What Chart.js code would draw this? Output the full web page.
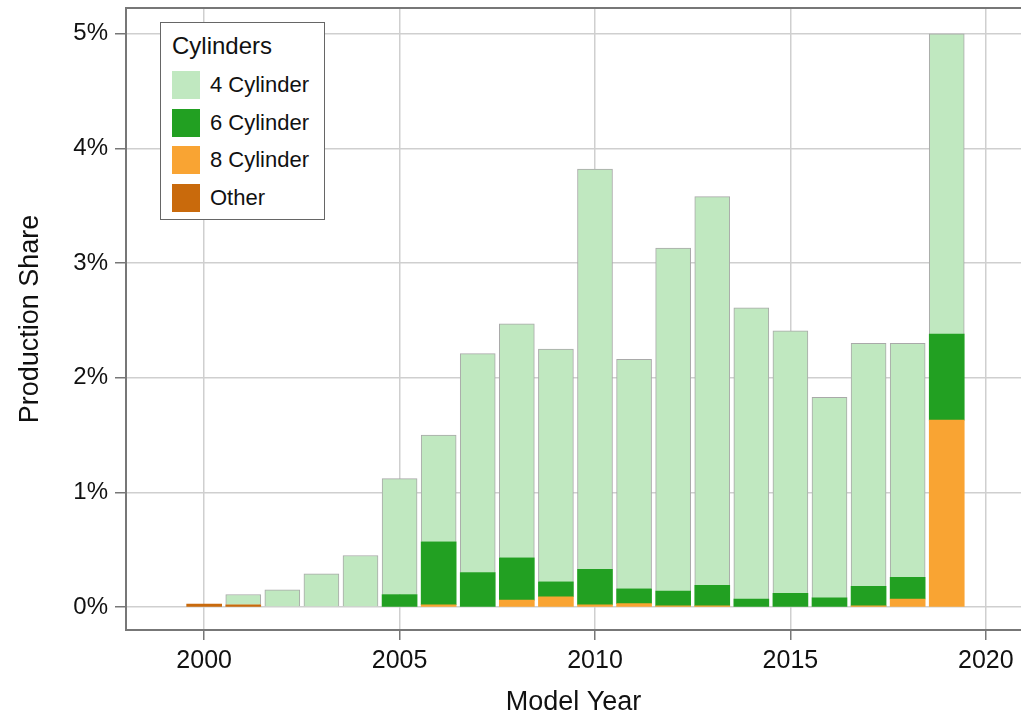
<!DOCTYPE html>
<html>
<head>
<meta charset="utf-8">
<script src="https://cdn.jsdelivr.net/npm/chart.js@4/dist/chart.umd.min.js"></script>
<style>
    body { margin: 0; background: #fff; }
    #wrap { position: relative; width: 1021px; height: 719px; }
    #legend {
        position: absolute; left: 160px; top: 22px; width: 163px; height: 196px;
        border: 1.5px solid #666; background: #fff;
        font-family: "Liberation Sans", Arial, sans-serif; color: #111;
    }
    #legend .title { font-size: 24px; position: absolute; left: 11px; top: 9px; }
    #legend .item { position: absolute; left: 11px; height: 28px; display: flex; align-items: center; font-size: 22px; }
    #legend .sw { width: 28px; height: 28px; margin-right: 10px; }
</style>
</head>
<body>
<div id="wrap">
    <canvas id="shareChart" width="1021" height="719"></canvas>
    <div id="legend"></div>
</div>
<script>
// Datos (porcentaje de producción)
const years = [2000, 2001, 2002, 2003, 2004, 2005, 2006, 2007, 2008, 2009,
               2010, 2011, 2012, 2013, 2014, 2015, 2016, 2017, 2018, 2019];
const cyl4  = [0, 0.09, 0.15, 0.29, 0.45, 1.01, 0.93, 1.91, 2.04, 2.03,
               3.49, 2.00, 2.99, 3.39, 2.54, 2.29, 1.75, 2.12, 2.04, 2.62];
const cyl6  = [0, 0, 0, 0, 0, 0.11, 0.55, 0.30, 0.37, 0.13,
               0.31, 0.13, 0.13, 0.18, 0.07, 0.12, 0.08, 0.17, 0.19, 0.75];
const cyl8  = [0, 0, 0, 0, 0, 0, 0.02, 0, 0.06, 0.09,
               0.02, 0.03, 0.01, 0.01, 0, 0, 0, 0.01, 0.07, 1.63];
const other = [0.025, 0.02, 0, 0, 0, 0, 0, 0, 0, 0,
               0, 0, 0, 0, 0, 0, 0, 0, 0, 0];
const yTicks = [0, 1, 2, 3, 4, 5];
const xTicks = [2000, 2005, 2010, 2015, 2020];

const FONT = '"Liberation Sans", Arial, sans-serif';

// Los valores cero no se dibujan
function toPoints(values) {
    return years.map((y, i) => ({ x: y, y: values[i] === 0 ? null : values[i] }));
}

// Orden de apilado: de abajo hacia arriba
const datasets = [
    { label: 'Other',      data: toPoints(other), backgroundColor: '#c96a0c', borderWidth: 0 },
    { label: '8 Cylinder', data: toPoints(cyl8),  backgroundColor: '#f9a433', borderWidth: 0 },
    { label: '6 Cylinder', data: toPoints(cyl6),  backgroundColor: '#22a022', borderWidth: 0 },
    { label: '4 Cylinder', data: toPoints(cyl4),  backgroundColor: '#c0e8c0',
      borderColor: '#a9a9a9', borderWidth: { top: 1, left: 1, right: 1, bottom: 0 } }
];

// Línea superior del marco
const topFrame = {
    id: 'topFrame',
    afterDraw(chart) {
        const { ctx, chartArea } = chart;
        ctx.save();
        ctx.strokeStyle = '#777';
        ctx.lineWidth = 2;
        ctx.beginPath();
        ctx.moveTo(chartArea.left, chartArea.top);
        ctx.lineTo(chartArea.right, chartArea.top);
        ctx.stroke();
        ctx.restore();
    }
};

const ctx = document.getElementById('shareChart').getContext('2d');
const shareChart = new Chart(ctx, {
    type: 'bar',
    data: { datasets },
    options: {
        responsive: false,
        animation: false,
        devicePixelRatio: 1,
        layout: { padding: { top: 8, right: 0, bottom: 0, left: 0 } },
        datasets: { bar: { barThickness: 35 } },
        plugins: {
            legend: { display: false },
            tooltip: { enabled: false }
        },
        scales: {
            x: {
                type: 'linear',
                stacked: true,
                offset: false,
                min: 1998,
                max: 2020.9,
                afterFit: s => { s.height = 89; s.paddingLeft = 0; s.paddingRight = 0; },
                afterBuildTicks: s => { s.ticks = xTicks.map(v => ({ value: v })); },
                ticks: {
                    includeBounds: false,
                    maxRotation: 0,
                    padding: 6,
                    color: '#111',
                    font: { family: FONT, size: 25 },
                    callback: v => String(v)
                },
                grid: { offset: false, color: '#cfcfcf', lineWidth: 1.5, tickColor: '#777', tickLength: 10 },
                border: { display: true, color: '#777', width: 2 },
                title: {
                    display: true,
                    text: 'Model Year',
                    color: '#111',
                    font: { family: FONT, size: 27 },
                    padding: { top: 0, bottom: 0 }
                }
            },
            y: {
                stacked: true,
                min: -0.2,
                max: 5.225,
                afterFit: s => { s.width = 126; s.paddingTop = 0; s.paddingBottom = 0; },
                afterBuildTicks: s => { s.ticks = yTicks.map(v => ({ value: v })); },
                ticks: {
                    padding: 7,
                    color: '#111',
                    font: { family: FONT, size: 24 },
                    callback: v => v + '%'
                },
                grid: { color: '#cfcfcf', lineWidth: 1.5, tickColor: '#777', tickLength: 11 },
                border: { display: true, color: '#777', width: 2 },
                title: {
                    display: true,
                    text: 'Production Share',
                    color: '#111',
                    font: { family: FONT, size: 27 },
                    padding: { top: 14, bottom: 0 }
                }
            }
        }
    },
    plugins: [topFrame]
});

// Leyenda HTML construida desde los datasets (orden inverso)
function buildLegend() {
    const box = document.getElementById('legend');
    const title = document.createElement('div');
    title.className = 'title';
    title.textContent = 'Cylinders';
    box.appendChild(title);
    datasets.slice().reverse().forEach((ds, i) => {
        const item = document.createElement('div');
        item.className = 'item';
        item.style.top = (48 + i * 37.7) + 'px';
        const sw = document.createElement('span');
        sw.className = 'sw';
        sw.style.background = ds.backgroundColor;
        const txt = document.createElement('span');
        txt.textContent = ds.label;
        item.appendChild(sw);
        item.appendChild(txt);
        box.appendChild(item);
    });
}
buildLegend();
</script>
</body>
</html>
